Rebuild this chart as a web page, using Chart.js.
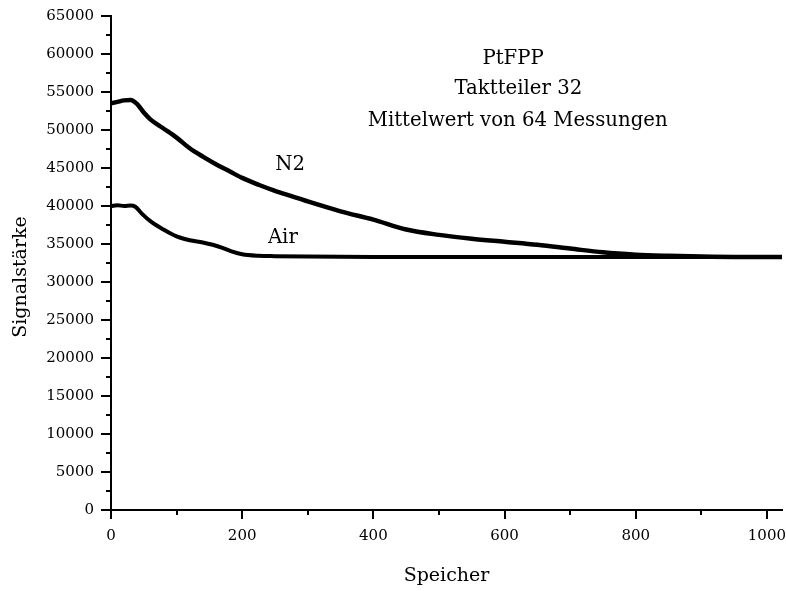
<!DOCTYPE html>
<html>
<head>
<meta charset="utf-8">
<script src="https://cdn.jsdelivr.net/npm/chart.js@4"></script>
<style>
  html, body { margin: 0; padding: 0; background: #fff; }
  #wrap { width: 786px; height: 591px; }
</style>
</head>
<body>
<div id="wrap"><canvas id="chart"></canvas></div>
<script>
// Speicher (channel) positions and signal values
const n2X = [0, 10, 20, 30, 40, 50, 60, 80, 100, 120, 140, 160, 180, 200, 225, 250, 275, 300, 350, 400, 450, 500, 550, 600, 650, 700, 750, 800, 850, 900, 950, 1023];
const n2Y = [53500, 53700, 53900, 53950, 53400, 52300, 51400, 50200, 49000, 47600, 46500, 45500, 44600, 43700, 42800, 42000, 41300, 40600, 39300, 38200, 36900, 36200, 35700, 35300, 34900, 34400, 33900, 33600, 33450, 33350, 33300, 33300];

const airX = [0, 10, 20, 30, 37, 47, 60, 80, 100, 120, 140, 155, 170, 185, 200, 225, 250, 300, 400, 500, 600, 700, 800, 900, 1023];
const airY = [40000, 40100, 40000, 40050, 39900, 39000, 38000, 36900, 36000, 35500, 35200, 34900, 34500, 34000, 33650, 33450, 33400, 33350, 33300, 33300, 33300, 33300, 33300, 33300, 33300];

const yTicks = [0, 5000, 10000, 15000, 20000, 25000, 30000, 35000, 40000, 45000, 50000, 55000, 60000, 65000];
const xTicks = [0, 200, 400, 600, 800, 1000];

// text labels inside the plot, placed in data units (baseline)
const notes = [
  { text: 'PtFPP', x: 613, y: 58700 },
  { text: 'Taktteiler 32', x: 621, y: 54700 },
  { text: 'Mittelwert von 64 Messungen', x: 620, y: 50500 },
  { text: 'N2', x: 273, y: 44700 },
  { text: 'Air', x: 262, y: 35100 }
];

const FONT = "'DejaVu Serif', serif";

const extras = {
  id: 'extras',
  afterDraw(chart) {
    const { ctx, scales: { x, y } } = chart;
    ctx.save();
    ctx.strokeStyle = '#000';
    ctx.lineWidth = 2;
    // minor ticks
    for (let v = 2500; v < 65000; v += 5000) {
      const py = Math.round(y.getPixelForValue(v));
      ctx.beginPath();
      ctx.moveTo(x.left - 5, py);
      ctx.lineTo(x.left, py);
      ctx.stroke();
    }
    for (let v = 100; v < 1023; v += 200) {
      const px = Math.round(x.getPixelForValue(v));
      ctx.beginPath();
      ctx.moveTo(px, y.bottom);
      ctx.lineTo(px, y.bottom + 5);
      ctx.stroke();
    }
    // notes
    ctx.fillStyle = '#000';
    ctx.font = '19.7px ' + FONT;
    ctx.textAlign = 'center';
    ctx.textBaseline = 'alphabetic';
    notes.forEach(n => ctx.fillText(n.text, x.getPixelForValue(n.x), y.getPixelForValue(n.y)));
    // y axis title
    ctx.font = '19px ' + FONT;
    ctx.translate(21, 277);
    ctx.rotate(-Math.PI / 2);
    ctx.textBaseline = 'middle';
    ctx.fillText('Signalstärke', 0, 0);
    ctx.restore();
  }
};

new Chart(document.getElementById('chart'), {
  type: 'line',
  data: {
    datasets: [
      {
        label: 'N2',
        data: n2X.map((v, i) => ({ x: v, y: n2Y[i] })),
        borderColor: '#000',
        borderWidth: 4.5,
        pointRadius: 0,
        cubicInterpolationMode: 'monotone'
      },
      {
        label: 'Air',
        data: airX.map((v, i) => ({ x: v, y: airY[i] })),
        borderColor: '#000',
        borderWidth: 4,
        pointRadius: 0,
        cubicInterpolationMode: 'monotone'
      }
    ]
  },
  options: {
    responsive: true,
    maintainAspectRatio: false,
    animation: false,
    layout: { padding: { top: 16, right: 4, left: 0, bottom: 0 } },
    plugins: { legend: { display: false }, tooltip: { enabled: false } },
    scales: {
      x: {
        type: 'linear',
        min: 0,
        max: 1023,
        afterBuildTicks: s => { s.ticks = xTicks.map(v => ({ value: v })); },
        afterFit: s => { s.height = 81; s.paddingRight = 0; s.paddingLeft = 0; },
        grid: { drawOnChartArea: false, tickLength: 9, color: '#000', lineWidth: 2 },
        border: { color: '#000', width: 2 },
        ticks: { color: '#000', font: { family: FONT, size: 15 }, padding: 8, maxRotation: 0, callback: v => String(v) },
        title: { display: true, text: 'Speicher', color: '#000', font: { family: FONT, size: 19 }, padding: { top: 0, bottom: 4 } }
      },
      y: {
        min: 0,
        max: 65000,
        afterBuildTicks: s => { s.ticks = yTicks.map(v => ({ value: v })); },
        afterFit: s => { s.width = 111; s.paddingTop = 0; s.paddingBottom = 0; },
        grid: { drawOnChartArea: false, tickLength: 10, color: '#000', lineWidth: 2 },
        border: { color: '#000', width: 2 },
        ticks: { color: '#000', font: { family: FONT, size: 15 }, padding: 7, callback: v => String(v) }
      }
    }
  },
  plugins: [extras]
});
</script>
</body>
</html>
